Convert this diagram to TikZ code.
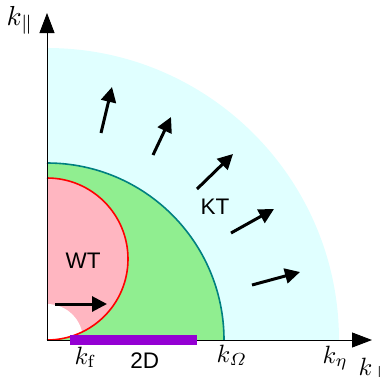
\documentclass[tikz,border=0pt]{standalone}
\usepackage{fontspec}
\newfontfamily\sansA{Liberation Sans}
\usetikzlibrary{arrows.meta}
\definecolor{ktcol}{RGB}{224,255,255}
\definecolor{greencol}{RGB}{144,238,144}
\definecolor{pinkcol}{RGB}{255,182,193}
\definecolor{tealcol}{RGB}{0,128,128}
\definecolor{purplecol}{RGB}{148,0,211}
\tikzset{
  flow/.style={line width=3pt,-{Triangle[length=15pt,width=15pt]}},
  axis/.style={line width=0.9pt,-{Triangle[length=20pt,width=15pt]}},
  mlabel/.style={inner sep=0pt,anchor=base west,font=\fontsize{10}{12}\selectfont,scale=2.5},
  slabel/.style={inner sep=0pt,font=\fontsize{10}{12}\selectfont\sansA,scale=2.25}
}
\begin{document}
\begin{tikzpicture}[x=1pt,y=-1pt]
\useasboundingbox (0,0) rectangle (388,376);
\coordinate (O) at (47,340);
% KT region
\fill[ktcol] (O) -- (339,340) arc[start angle=0,end angle=-90,radius=292] -- cycle;
% green region
\fill[greencol] (O) -- (224,340) arc[start angle=0,end angle=-90,radius=177] -- cycle;
\draw[tealcol,line width=1.6pt] (224,340) arc[start angle=0,end angle=-90,radius=177];
% WT region
\fill[pinkcol] (O) arc[start angle=90,end angle=-90,radius=81] -- cycle;
\begin{scope}
  \clip (O) arc[start angle=90,end angle=-90,radius=81] -- cycle;
  \fill[white] (O) circle[radius=36];
\end{scope}
\draw[red,line width=1.6pt] (O) arc[start angle=90,end angle=-90,radius=81];
% axes
\coordinate (xend) at (372,340);
\coordinate (yend) at (47,13);
\draw[axis] (O) -- (xend);
\draw[axis] (O) -- (yend);
% 2D bar
\coordinate (b1) at (70,339.5);
\coordinate (b2) at (197,339.5);
\draw[purplecol,line width=10pt] (b1) -- (b2);
% arrows
\coordinate (a1s) at (101,133); \coordinate (a1e) at (112,87);
\coordinate (a2s) at (153,155); \coordinate (a2e) at (171,117);
\coordinate (a3s) at (197,189); \coordinate (a3e) at (233,154);
\coordinate (a4s) at (231,233); \coordinate (a4e) at (274,209);
\coordinate (a5s) at (252,285); \coordinate (a5e) at (300,272);
\coordinate (a6s) at (55,304); \coordinate (a6e) at (107,304);
\draw[flow] (a1s) -- (a1e);
\draw[flow] (a2s) -- (a2e);
\draw[flow] (a3s) -- (a3e);
\draw[flow] (a4s) -- (a4e);
\draw[flow] (a5s) -- (a5e);
\draw[flow] (a6s) -- (a6e);
% labels
\node[slabel] (kt) at (215,206.5) {KT};
\node[slabel] (wt) at (83,261) {WT};
\node[slabel,anchor=base west] (twod) at (130,368) {2D};
\node[mlabel] (kf) at (74,364) {$k_{\mathrm{f}}$};
\node[mlabel] (kom) at (216,362) {$k_{\mathnormal{\Omega}}$};
\node[mlabel] (keta) at (322,363) {$k_{\eta}$};
\node[mlabel] (kperp) at (358,375) {$k_{\perp}$};
\node[mlabel,scale=1.1] (kpar) at (6,25) {$k_{\parallel}$};
\end{tikzpicture}
\end{document}
